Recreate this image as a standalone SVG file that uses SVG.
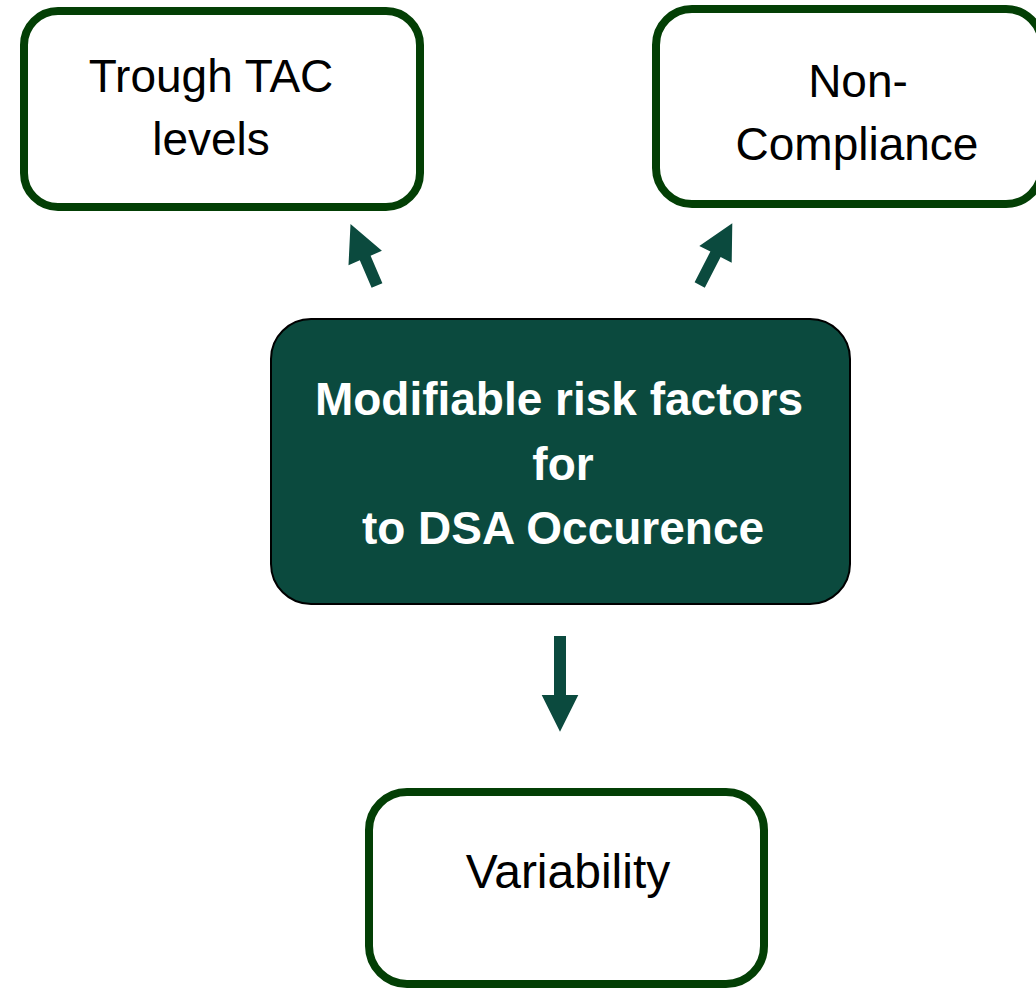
<svg xmlns="http://www.w3.org/2000/svg" width="1036" height="988" viewBox="0 0 1036 988">
  <style>
    .box { fill: #ffffff; stroke: #033F05; stroke-width: 8; }
    .core { fill: #0B4A3E; stroke: #000000; stroke-width: 2; }
    .lbl { font-family: "Liberation Sans", Arial, sans-serif; font-size: 46px; fill: #000000; text-anchor: middle; }
    .core-lbl { font-family: "Liberation Sans", Arial, sans-serif; font-size: 46px; font-weight: bold; fill: #ffffff; text-anchor: middle; }
    .arrow { fill: #0B4A3E; stroke: none; }
  </style>
  <rect width="1036" height="988" fill="#ffffff"/>
  <g id="node-trough">
    <rect class="box" x="24" y="11" width="396" height="196" rx="34" ry="34"/>
    <text class="lbl" x="211" y="92">Trough TAC</text>
    <text class="lbl" x="211" y="155">levels</text>
  </g>
  <g id="node-noncompliance">
    <rect class="box" x="656" y="9" width="386" height="195" rx="36" ry="36"/>
    <text class="lbl" x="858" y="97">Non-</text>
    <text class="lbl" x="857" y="160">Compliance</text>
  </g>
  <g id="node-core">
    <rect class="core" x="271" y="319" width="579" height="285" rx="40" ry="40"/>
    <text class="core-lbl" x="559" y="415">Modifiable risk factors</text>
    <text class="core-lbl" x="563" y="480">for</text>
    <text class="core-lbl" x="563" y="544">to DSA Occurence</text>
  </g>
  <g id="node-variability">
    <rect class="box" x="369" y="792" width="395" height="192" rx="38" ry="38"/>
    <text class="lbl" x="568" y="888" style="font-size:48px">Variability</text>
  </g>
  <g id="connectors">
    <polygon class="arrow" points="350.5,224 381.9,250.8 370.6,255.7 382.4,283.2 371.6,287.8 359.8,260.3 348.5,265.2"/>
    <polygon class="arrow" points="732.3,223.3 731.7,262.7 720.6,257.1 704.8,287.8 694.6,282.2 710.4,251.5 699.3,246"/>
    <polygon class="arrow" points="554,636 566,636 566,695 578.3,695 560,731.7 541.7,695 554,695"/>
  </g>
</svg>
